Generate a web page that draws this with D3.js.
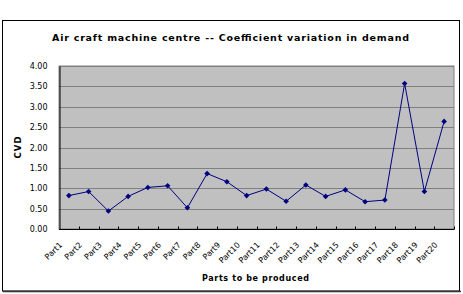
<!DOCTYPE html>
<html>
<head>
<meta charset="utf-8">
<script src="https://cdn.jsdelivr.net/npm/d3@7"></script>
<style>
body{margin:0;background:#fff;}
text{font-family:"DejaVu Sans",sans-serif;fill:#000;}
</style>
</head>
<body>
<div id="chart"></div>
<script>
// values
const parts = ["Part1","Part2","Part3","Part4","Part5","Part6","Part7","Part8","Part9","Part10",
  "Part11","Part12","Part13","Part14","Part15","Part16","Part17","Part18","Part19","Part20"];
const cvd = [0.82,0.92,0.44,0.80,1.02,1.06,0.52,1.36,1.16,0.82,
  0.98,0.68,1.08,0.80,0.96,0.67,0.71,3.57,0.92,2.64];
const yTicks = [0,0.5,1,1.5,2,2.5,3,3.5,4];

const W = 463, H = 294;
const m = {left:59, right:9, top:66, bottom:65};

let svg = d3.select("#chart").append("svg")
  .attr("width",W).attr("height",H);

// outer frame
svg.append("rect").attr("x",2.5).attr("y",20.5).attr("width",457).attr("height",270.5)
  .attr("fill","#fff").attr("stroke","#000").attr("stroke-width",1);
svg.append("line").attr("x1",3).attr("x2",461).attr("y1",291.5).attr("y2",291.5)
  .attr("stroke","#333").attr("stroke-width",1.5);

let x = d3.scaleBand().domain(parts).range([m.left, W-m.right]);
let y = d3.scaleLinear().domain([0,4]).range([H-m.bottom, m.top]);

// plot area
svg.append("rect").attr("x",m.left).attr("y",m.top)
  .attr("width",W-m.right-m.left).attr("height",H-m.bottom-m.top)
  .attr("fill","#c0c0c0").attr("stroke","#808080");

svg.selectAll(".grid").data(yTicks.slice(1)).enter()
  .append("line").attr("class","grid")
  .attr("x1",m.left).attr("x2",W-m.right)
  .attr("y1",d=>Math.round(y(d))+0.5).attr("y2",d=>Math.round(y(d))+0.5)
  .attr("stroke","#808080");

// y axis
let yAxis = svg.append("g").attr("transform",`translate(${m.left+0.5},0)`)
  .call(d3.axisLeft(y).tickValues(yTicks).tickFormat(d3.format(".2f")).tickSize(0).tickPadding(12));
yAxis.select(".domain").attr("stroke","#000");
yAxis.selectAll("text").style("font-size","8px").style("font-family","DejaVu Sans");

// x axis, ticks between categories pointing up
let xAxis = svg.append("g").attr("transform",`translate(0,${H-m.bottom+0.5})`);
xAxis.append("line").attr("x1",m.left).attr("x2",W-m.right).attr("stroke","#000");
xAxis.selectAll(".tk").data(parts.slice(1).concat(["end"])).enter()
  .append("line").attr("class","tk")
  .attr("x1",(d,i)=>Math.round(m.left+x.step()*(i+1))+0.5)
  .attr("x2",(d,i)=>Math.round(m.left+x.step()*(i+1))+0.5)
  .attr("y1",0).attr("y2",-3).attr("stroke","#000");
xAxis.selectAll(".lbl").data(parts).enter()
  .append("text").attr("class","lbl")
  .attr("text-anchor","end")
  .attr("transform",d=>`translate(${x(d)+x.bandwidth()/2-6},${16}) rotate(-45)`)
  .style("font-size","8px")
  .text(d=>d);

// line + markers
let line = d3.line().x((d,i)=>x(parts[i])+x.bandwidth()/2).y(d=>y(d));
svg.append("path").datum(cvd).attr("d",line)
  .attr("fill","none").attr("stroke","#000080").attr("stroke-width",1);
svg.selectAll(".pt").data(cvd).enter()
  .append("path").attr("class","pt")
  .attr("d",d3.symbol(d3.symbolDiamond2,20))
  .attr("transform",(d,i)=>`translate(${x(parts[i])+x.bandwidth()/2},${y(d)})`)
  .attr("fill","#000080");

// titles
svg.append("text").attr("x",52).attr("y",41)
  .attr("textLength",357).attr("lengthAdjust","spacing")
  .style("font-size","9.5px").style("font-weight","bold")
  .text("Air craft machine centre -- Coefficient variation in demand");
svg.append("text").attr("x",202).attr("y",281)
  .attr("textLength",107).attr("lengthAdjust","spacing")
  .style("font-size","8px").style("font-weight","bold")
  .text("Parts to be produced");
svg.append("text").attr("transform","translate(21,147) rotate(-90)").attr("text-anchor","middle")
  .style("font-size","8.5px").style("font-weight","bold").style("letter-spacing","1px")
  .text("CVD");
</script>
</body>
</html>
